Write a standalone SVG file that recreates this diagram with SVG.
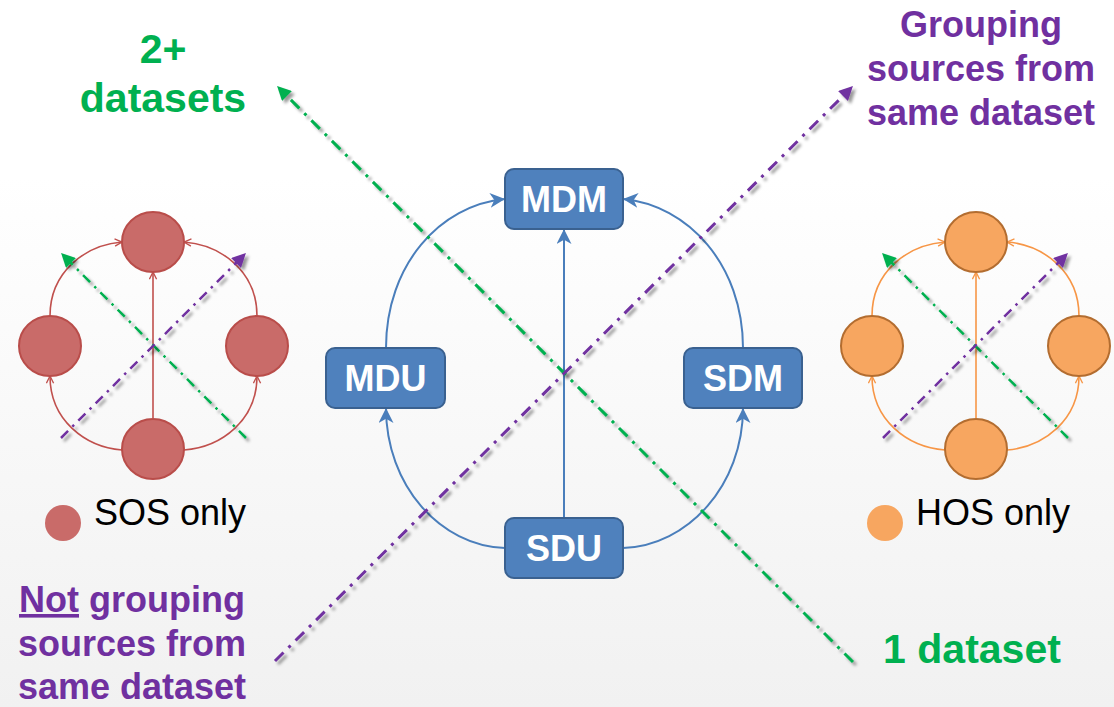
<svg xmlns="http://www.w3.org/2000/svg" width="1114" height="707" viewBox="0 0 1114 707">
<defs>
<linearGradient id="bg" x1="0" y1="0" x2="0" y2="1">
<stop offset="0" stop-color="#ffffff"/>
<stop offset="0.25" stop-color="#ffffff"/>
<stop offset="1" stop-color="#f1f1f1"/>
</linearGradient>
<filter id="sh" x="-10%" y="-10%" width="120%" height="120%">
<feDropShadow dx="3" dy="3" stdDeviation="1.5" flood-color="#000" flood-opacity="0.4"/>
</filter>
<marker id="aBlue" viewBox="0 0 14 14" refX="14" refY="7" markerWidth="15" markerHeight="15" markerUnits="userSpaceOnUse" orient="auto">
<path d="M0,0 L14,7 L0,14 L4,7 z" fill="#4a7ebb"/>
</marker>
<marker id="aRed" viewBox="0 0 10 10" refX="9" refY="5" markerWidth="9" markerHeight="9" markerUnits="userSpaceOnUse" orient="auto">
<path d="M1,1 L9,5 L1,9" fill="none" stroke="#c0504d" stroke-width="1.5"/>
</marker>
<marker id="aOrange" viewBox="0 0 10 10" refX="9" refY="5" markerWidth="9" markerHeight="9" markerUnits="userSpaceOnUse" orient="auto">
<path d="M1,1 L9,5 L1,9" fill="none" stroke="#f79646" stroke-width="1.5"/>
</marker>
<marker id="aGreen" viewBox="0 0 10 10" refX="3" refY="5" markerWidth="16" markerHeight="14" markerUnits="userSpaceOnUse" orient="auto">
<path d="M0,0 L10,5 L0,10 z" fill="#00b050"/>
</marker>
<marker id="aPurple" viewBox="0 0 10 10" refX="3" refY="5" markerWidth="16" markerHeight="14" markerUnits="userSpaceOnUse" orient="auto">
<path d="M0,0 L10,5 L0,10 z" fill="#7030a0"/>
</marker>
<style>
.box{fill:#4f81bd;stroke:#3a6190;stroke-width:2}
.btxt{font-family:"Liberation Sans",Arial,sans-serif;font-weight:bold;font-size:36px;fill:#ffffff;text-anchor:middle}
.blue{fill:none;stroke:#4a7ebb;stroke-width:2;marker-end:url(#aBlue)}
.red{fill:none;stroke:#c0504d;stroke-width:1.6;marker-end:url(#aRed)}
.org{fill:none;stroke:#f79646;stroke-width:1.6;marker-end:url(#aOrange)}
.rc{fill:#c96b69;stroke:#b94d4a;stroke-width:2}
.oc{fill:#f7a660;stroke:#b36d30;stroke-width:2}
.gd{fill:none;stroke:#00b050;stroke-width:3;stroke-dasharray:12 7 3 7;marker-end:url(#aGreen);filter:url(#sh)}
.pd{fill:none;stroke:#7030a0;stroke-width:3;stroke-dasharray:12 7 3 7;marker-end:url(#aPurple);filter:url(#sh)}
.gs{fill:none;stroke:#00b050;stroke-width:2.5;stroke-dasharray:10 6 2.5 6;marker-end:url(#aGreen);filter:url(#sh)}
.ps{fill:none;stroke:#7030a0;stroke-width:2.5;stroke-dasharray:10 6 2.5 6;marker-end:url(#aPurple);filter:url(#sh)}
.lbl{font-family:"Liberation Sans",Arial,sans-serif;font-weight:bold;text-anchor:middle}
.g{fill:#00b050;font-size:41px}
.p{fill:#7030a0;font-size:36px}
.leg{font-family:"Liberation Sans",Arial,sans-serif;font-size:36px;fill:#000000}
</style>
</defs>
<rect x="0" y="0" width="1114" height="707" fill="url(#bg)"/>

<g id="connectors">
<path class="blue" d="M564,518 L564,229"/>
<path class="blue" d="M386,348 C386,265 440,205 505,199"/>
<path class="blue" d="M743,348 C743,265 688,205 623,199"/>
<path class="blue" d="M505,548 C440,546 386,485 386,408"/>
<path class="blue" d="M623,548 C688,546 743,485 743,408"/>
<path class="red" d="M153,418 L153,272"/>
<path class="red" d="M50,316 C50,272 85,245 122,242"/>
<path class="red" d="M257,316 C257,272 222,245 184,242"/>
<path class="red" d="M122,450 C85,447 50,420 50,376"/>
<path class="red" d="M184,450 C222,447 257,420 257,376"/>
<path class="org" d="M976,418 L976,272"/>
<path class="org" d="M872,316 C872,272 907,245 945,242"/>
<path class="org" d="M1079,316 C1079,272 1044,245 1007,242"/>
<path class="org" d="M945,450 C907,447 872,420 872,376"/>
<path class="org" d="M1007,450 C1044,447 1079,420 1079,376"/>
<path class="gd" d="M853,662 L284,93"/>
<path class="pd" d="M275,661 L846,93"/>
<path class="gs" d="M246,438 L68,260"/>
<path class="ps" d="M61,438 L239,260"/>
<path class="gs" d="M1068,438 L889,260"/>
<path class="ps" d="M883,438 L1061,260"/>
</g>

<g id="MDM"><rect class="box" x="505" y="169" width="118" height="60" rx="9"/><text class="btxt" x="564" y="212">MDM</text></g>
<g id="MDU"><rect class="box" x="326" y="348" width="119" height="60" rx="9"/><text class="btxt" x="385.5" y="391">MDU</text></g>
<g id="SDM"><rect class="box" x="684" y="348" width="118" height="60" rx="9"/><text class="btxt" x="743" y="391">SDM</text></g>
<g id="SDU"><rect class="box" x="505" y="518" width="118" height="60" rx="9"/><text class="btxt" x="564" y="561">SDU</text></g>

<g id="sos-top"><ellipse class="rc" cx="153" cy="242" rx="31" ry="30"/></g>
<g id="sos-left"><ellipse class="rc" cx="50" cy="346" rx="31" ry="30"/></g>
<g id="sos-right"><ellipse class="rc" cx="257" cy="346" rx="31" ry="30"/></g>
<g id="sos-bottom"><ellipse class="rc" cx="153" cy="449" rx="31" ry="30"/></g>

<g id="hos-top"><ellipse class="oc" cx="976" cy="242" rx="31" ry="30"/></g>
<g id="hos-left"><ellipse class="oc" cx="872" cy="346" rx="31" ry="30"/></g>
<g id="hos-right"><ellipse class="oc" cx="1079" cy="346" rx="31" ry="30"/></g>
<g id="hos-bottom"><ellipse class="oc" cx="976" cy="449" rx="31" ry="30"/></g>

<g id="legend-sos"><circle cx="63" cy="523" r="18" fill="#c96b69"/><text class="leg" x="94" y="525">SOS only</text></g>
<g id="legend-hos"><circle cx="885" cy="523" r="18" fill="#f7a660"/><text class="leg" x="916" y="525">HOS only</text></g>

<g id="label-2plus"><text class="lbl g" x="163" y="63">2+</text><text class="lbl g" x="163" y="112">datasets</text></g>
<g id="label-1"><text class="lbl g" x="972" y="663">1 dataset</text></g>
<g id="label-grouping"><text class="lbl p" x="981" y="37">Grouping</text><text class="lbl p" x="981" y="81">sources from</text><text class="lbl p" x="981" y="125">same dataset</text></g>
<g id="label-notgrouping"><text class="lbl p" x="132" y="612"><tspan text-decoration="underline">Not</tspan> grouping</text><text class="lbl p" x="132" y="656">sources from</text><text class="lbl p" x="132" y="699">same dataset</text></g>
</svg>
